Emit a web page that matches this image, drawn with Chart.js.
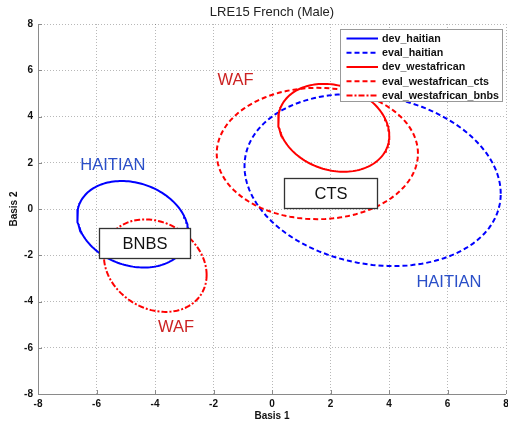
<!DOCTYPE html>
<html><head><meta charset="utf-8">
<script src="https://cdn.jsdelivr.net/npm/chart.js@4.4.1/dist/chart.umd.min.js"></script>
<style>html,body{margin:0;padding:0;background:#fff}#wrap{width:508px;height:423px;position:relative}</style>
</head><body><div id="wrap"><canvas id="c" width="508" height="423"></canvas></div>
<script>
// ---- data ----
const seriesNames = ['dev_haitian','eval_haitian','dev_westafrican','eval_westafrican_cts','eval_westafrican_bnbs'];
// ellipse contours: centre, half-width (x), half-height (y), tilt (sine of phase shift)
const centerX    = [-4.76, 3.44, 2.11, 1.55, -3.99];
const centerY    = [-0.66, 1.255, 3.51, 2.40, -2.45];
const halfWidth  = [1.90, 4.38, 1.90, 3.44, 1.755];
const halfHeight = [1.87, 3.72, 1.90, 2.84, 2.00];
const tilt       = [-0.20, -0.16, -0.18, 0.00, -0.20];
const xTicks = [-8,-6,-4,-2,0,2,4,6,8];
const yTicks = [-8,-6,-4,-2,0,2,4,6,8];
const labelTexts = ['HAITIAN','WAF','WAF','HAITIAN'];
const labelX = [-5.44, -1.25, -3.28, 6.05];
const labelY = [1.90, 5.57, -5.11, -3.16];
const boxTexts = ['BNBS','CTS'];
const boxLeft = [-5.90, 0.42], boxRight = [-2.80, 3.58];
const boxTop = [-0.84, 1.33], boxBottom = [-2.13, 0.03];

// ---- styles ----
const seriesColors = ['#0000ff','#0000ff','#ff0000','#ff0000','#ff0000'];
const seriesDash = [[],[5,3],[],[5,3],[6,2,2,2]];
const labelColors = ['#2a4fc8','#cc2222','#cc2222','#2a4fc8'];
const FONT = "'Liberation Sans', Arial, Helvetica, sans-serif";

function ellipsePoints(i){
  const pts = [];
  const phi = Math.asin(tilt[i]);
  const N = 160;
  for (let k=0;k<=N;k++){
    const t = 2*Math.PI*k/N;
    pts.push({x: centerX[i] + halfWidth[i]*Math.cos(t), y: centerY[i] + halfHeight[i]*Math.sin(t+phi)});
  }
  return pts;
}

const datasets = seriesNames.map((n,i)=>({
  label: n, data: ellipsePoints(i), showLine: true, pointRadius: 0, borderWidth: 2,
  borderColor: seriesColors[i], backgroundColor: seriesColors[i], borderDash: seriesDash[i],
  fill: false, tension: 0, order: seriesNames.length - i
}));

const decor = {
  id: 'decor',
  beforeDatasetsDraw(chart){
    const {ctx, chartArea: a} = chart;
    const xs = chart.scales.x, ys = chart.scales.y;
    ctx.save();
    ctx.strokeStyle = '#8a8a8a'; ctx.lineWidth = 1;
    ctx.beginPath();
    ctx.moveTo(a.left+0.5, a.top); ctx.lineTo(a.left+0.5, a.bottom+0.5); ctx.lineTo(a.right, a.bottom+0.5);
    xTicks.forEach(v=>{const p=Math.round(xs.getPixelForValue(v))+0.5; ctx.moveTo(p,a.bottom); ctx.lineTo(p,a.bottom-4);});
    yTicks.forEach(v=>{const p=Math.round(ys.getPixelForValue(v))+0.5; ctx.moveTo(a.left,p); ctx.lineTo(a.left+4,p);});
    ctx.stroke();
    ctx.restore();
  },
  afterDatasetsDraw(chart){
    const {ctx} = chart;
    const xs = chart.scales.x, ys = chart.scales.y;
    ctx.save();
    // title
    ctx.fillStyle = '#222'; ctx.font = '13px ' + FONT; ctx.textAlign='center'; ctx.textBaseline='middle';
    ctx.fillText('LRE15 French (Male)', (chart.chartArea.left+chart.chartArea.right)/2, 12);
    // text labels
    ctx.font = '16.5px ' + FONT;
    labelTexts.forEach((t,i)=>{
      ctx.fillStyle = labelColors[i];
      ctx.fillText(t, xs.getPixelForValue(labelX[i]), ys.getPixelForValue(labelY[i]));
    });
    // boxes
    boxTexts.forEach((t,i)=>{
      const l = Math.round(xs.getPixelForValue(boxLeft[i]))+0.5, r = Math.round(xs.getPixelForValue(boxRight[i]))+0.5;
      const tp = Math.round(ys.getPixelForValue(boxTop[i]))+0.5, b = Math.round(ys.getPixelForValue(boxBottom[i]))+0.5;
      ctx.fillStyle = '#fff'; ctx.fillRect(l,tp,r-l,b-tp);
      ctx.strokeStyle = '#333'; ctx.lineWidth = 1.3; ctx.strokeRect(l,tp,r-l,b-tp);
      ctx.fillStyle = '#111'; ctx.font = '16.5px ' + FONT;
      ctx.fillText(t, (l+r)/2, (tp+b)/2+1);
    });
    // legend
    const L = 340.5, T = 29.5, R = 502.5, B = 101.5;
    ctx.fillStyle = '#fff'; ctx.fillRect(L,T,R-L,B-T);
    ctx.strokeStyle = '#999'; ctx.lineWidth = 1; ctx.strokeRect(L,T,R-L,B-T);
    ctx.font = 'bold 10.7px ' + FONT; ctx.textAlign='left';
    chart.data.datasets.forEach((ds,i)=>{
      const y = 38.5 + i*14.25;
      ctx.strokeStyle = ds.borderColor; ctx.lineWidth = 2; ctx.setLineDash(ds.borderDash);
      ctx.beginPath(); ctx.moveTo(346.5,y); ctx.lineTo(378,y); ctx.stroke();
      ctx.setLineDash([]);
      ctx.fillStyle = '#111'; ctx.fillText(ds.label, 382, y+0.5);
    });
    ctx.restore();
  }
};

new Chart(document.getElementById('c'), {
  type: 'scatter',
  data: { datasets },
  options: {
    responsive: false, animation: false,
    layout: { padding: { top: 24, right: 2, left: 0, bottom: 0 } },
    plugins: { legend: { display: false }, tooltip: { enabled: false }, title: { display: false } },
    scales: {
      x: {
        type: 'linear', min: -8, max: 8,
        afterBuildTicks: s => { s.ticks = xTicks.map(v=>({value:v})); },
        afterFit: s => { s.height = 29; s.paddingLeft = 0; s.paddingRight = 0; },
        grid: { color: 'rgba(0,0,0,0.28)', drawTicks: false, lineWidth: 1 },
        border: { display: false, dash: [1,2] },
        ticks: { padding: 4, color: '#111', font: { family: FONT, size: 10, weight: 'bold' }, maxRotation: 0, autoSkip: false },
        title: { display: true, text: 'Basis 1', color: '#111', font: { family: FONT, size: 10, weight: 'bold' }, padding: { top: 0, bottom: 1 } }
      },
      y: {
        type: 'linear', min: -8, max: 8,
        afterBuildTicks: s => { s.ticks = yTicks.map(v=>({value:v})); },
        afterFit: s => { s.width = 38; s.paddingTop = 0; s.paddingBottom = 0; },
        grid: { color: 'rgba(0,0,0,0.28)', drawTicks: false, lineWidth: 1 },
        border: { display: false, dash: [1,2] },
        ticks: { padding: 5, color: '#111', font: { family: FONT, size: 10, weight: 'bold' }, autoSkip: false },
        title: { display: true, text: 'Basis 2', color: '#111', font: { family: FONT, size: 10, weight: 'bold' }, padding: { top: 8, bottom: 0 } }
      }
    }
  },
  plugins: [decor]
});
</script>
</body></html>
